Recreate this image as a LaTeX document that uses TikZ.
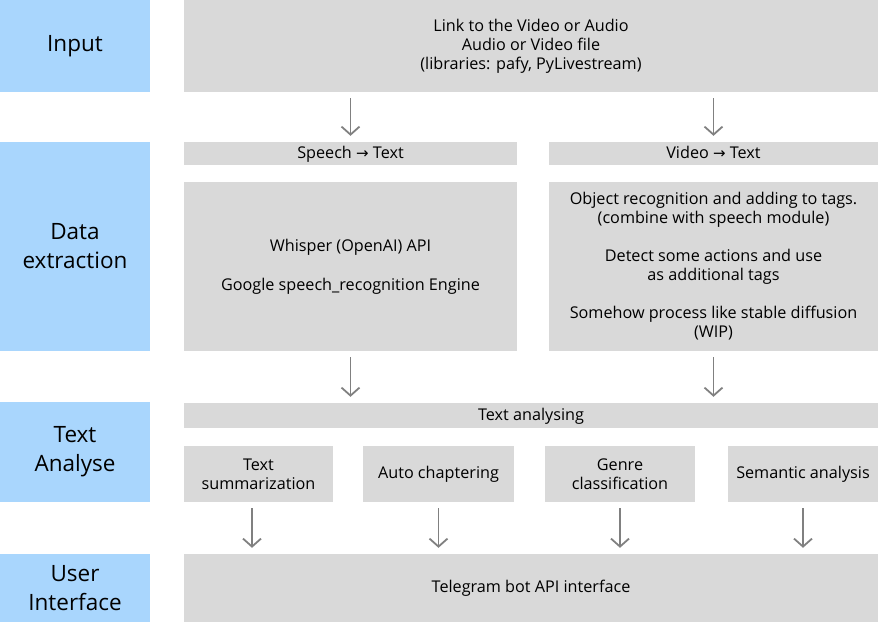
\documentclass[tikz,border=0pt]{standalone}
\usepackage{fontspec}
\setmainfont{Open Sans}
\newfontfamily\symfont{DejaVu Sans}
\usetikzlibrary{arrows.meta}
\usetikzlibrary{positioning}
\definecolor{stageblue}{HTML}{A9D6FD}
\definecolor{cellgray}{HTML}{D9D9D9}
\definecolor{arrowgray}{HTML}{808080}
\tikzset{
    stage/.style = {rectangle, fill=stageblue, inner sep=0pt, align=center, minimum width=150pt,
                    font=\fontsize{22.5}{29}\selectfont},
    cell/.style = {rectangle, fill=cellgray, inner sep=0pt, align=center,
                   font=\fontsize{16.2}{19}\selectfont},
    head/.style = {cell, minimum height=23pt, text height=12pt, text depth=3pt},
    edgeg/.style = {-{Straight Barb[length=8pt,width=18pt,line width=1.8pt]}, line width=1.8pt, arrowgray,
                    shorten <=6pt, shorten >=6pt} % flow
}
\newcommand{\toarrow}{{\symfont\fontsize{15}{19}\selectfont →}}

\begin{document}
\begin{tikzpicture}[x=1pt,y=-1pt]
  \useasboundingbox (0,0) rectangle (878,622);

  % left column
  \node[stage, minimum height=92pt]  (sinput) at (75,46)    {Input};
  \node[stage, minimum height=209pt] (sdata)  at (75,246.5) {Data\\extraction};
  \node[stage, minimum height=100pt] (stext)  at (75,452)   {Text\\Analyse};
  \node[stage, minimum height=68pt]  (suser)  at (75,588)   {User\\Interface};

  % input
  \node[cell, minimum width=694pt, minimum height=92pt] (input) at (531,46)
    {Link to the Video or Audio\\Audio or Video file\\(libraries: pafy, PyLivestream)};

  % extraction
  \node[head, minimum width=333pt] (sphead) at (350.5,153.5) {Speech \toarrow{} Text};
  \node[head, minimum width=329pt] (vidhead) at (713.5,153.5) {Video \toarrow{} Text};
  \node[cell, minimum width=333pt, minimum height=169pt] (spbody) at (350.5,266.5)
    {Whisper (OpenAI) API\\[20pt]Google speech\_recognition Engine};
  \node[cell, minimum width=329pt, minimum height=169pt] (vidbody) at (713.5,266.5)
    {Object recognition and adding to tags.\\(combine with speech module)\\[19pt]
     Detect some actions and use\\as additional tags\\[19pt]
     Somehow process like stable diffusion\\(WIP)};

  % analyse
  \node[head, minimum width=694pt, minimum height=25pt] (analyse) at (531,415.5) {Text analysing};
  \node[cell, minimum width=149pt, minimum height=56pt] (summ)  at (258.5,474) {Text\\summarization};
  \node[cell, minimum width=151pt, minimum height=56pt] (chap)  at (438.5,474) {Auto chaptering};
  \node[cell, minimum width=150pt, minimum height=56pt] (genre) at (620,474)   {Genre\\classification};
  \node[cell, minimum width=150pt, minimum height=56pt] (sem)   at (803,474)   {Semantic analysis};

  % interface
  \node[cell, minimum width=694pt, minimum height=68pt] (tg) at (531,588) {Telegram bot API interface};

  \draw[edgeg] (sphead.north |- input.south) -- (sphead.north);
  \draw[edgeg] (vidhead.north |- input.south) -- (vidhead.north);
  \draw[edgeg] (spbody.south) -- (spbody.south |- analyse.north);
  \draw[edgeg] (vidbody.south) -- (vidbody.south |- analyse.north);
  \draw[edgeg] ([xshift=-6.5pt]summ.south) -- ([xshift=-6.5pt]summ.south |- tg.north);
  \draw[edgeg] (chap.south) -- (chap.south |- tg.north);
  \draw[edgeg] (genre.south) -- (genre.south |- tg.north);
  \draw[edgeg] (sem.south) -- (sem.south |- tg.north);
\end{tikzpicture}
\end{document}
